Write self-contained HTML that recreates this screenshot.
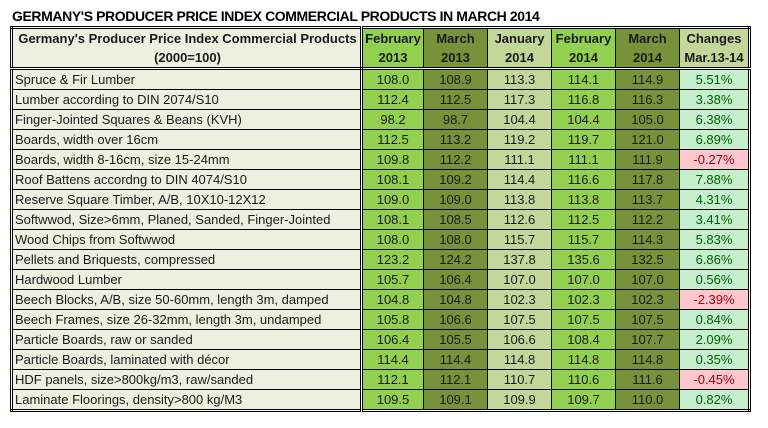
<!DOCTYPE html><html><head><style>
body{margin:0;width:768px;height:428px;background:#fff;font-family:"Liberation Sans",sans-serif;position:relative;overflow:hidden}
.t{position:absolute;left:12px;top:8px;font-weight:bold;font-size:14px;letter-spacing:-0.4px;color:#000}
table{position:absolute;left:10px;top:26px;border-collapse:collapse;table-layout:fixed;border:3px double #000;font-size:13px}
td{border:1px solid #000;height:19px;padding:0;text-align:center;white-space:nowrap;overflow:hidden;color:#1a1a1a}
td.l{text-align:left;padding-left:2px;background:#EBF1DE;border-right:3px double #000}
thead td{height:19px;font-weight:bold;border-top:none;border-bottom:none;line-height:19px}
thead tr:last-child td{border-bottom:3px double #000}
.a{background:#92D050}.b{background:#76933C}.c{background:#C4D79B}
.p{background:#C6EFCE;color:#006100}.n{background:#FFC7CE;color:#9C0006}
thead td.l{text-align:center;background:#EBF1DE}
</style></head><body>
<div class="t">GERMANY'S PRODUCER PRICE INDEX COMMERCIAL PRODUCTS IN MARCH 2014</div>
<table>
<colgroup><col style="width:350px"><col style="width:62px"><col style="width:64px"><col style="width:64px"><col style="width:64px"><col style="width:64px"><col style="width:70px"></colgroup>
<thead>
<tr><td class="l">Germany's Producer Price Index Commercial Products</td><td class="a">February</td><td class="b">March</td><td class="c">January</td><td class="a">February</td><td class="b">March</td><td class="c">Changes</td></tr>
<tr><td class="l">(2000=100)</td><td class="a">2013</td><td class="b">2013</td><td class="c">2014</td><td class="a">2014</td><td class="b">2014</td><td class="c">Mar.13-14</td></tr>
</thead>
<tbody>
<tr><td class="l">Spruce &amp; Fir Lumber</td><td class="a">108.0</td><td class="b">108.9</td><td class="c">113.3</td><td class="a">114.1</td><td class="b">114.9</td><td class="p">5.51%</td></tr>
<tr><td class="l">Lumber according to DIN 2074/S10</td><td class="a">112.4</td><td class="b">112.5</td><td class="c">117.3</td><td class="a">116.8</td><td class="b">116.3</td><td class="p">3.38%</td></tr>
<tr><td class="l">Finger-Jointed Squares &amp; Beans (KVH)</td><td class="a">98.2</td><td class="b">98.7</td><td class="c">104.4</td><td class="a">104.4</td><td class="b">105.0</td><td class="p">6.38%</td></tr>
<tr><td class="l">Boards, width over 16cm</td><td class="a">112.5</td><td class="b">113.2</td><td class="c">119.2</td><td class="a">119.7</td><td class="b">121.0</td><td class="p">6.89%</td></tr>
<tr><td class="l">Boards, width 8-16cm, size 15-24mm</td><td class="a">109.8</td><td class="b">112.2</td><td class="c">111.1</td><td class="a">111.1</td><td class="b">111.9</td><td class="n">-0.27%</td></tr>
<tr><td class="l">Roof Battens accordng to DIN 4074/S10</td><td class="a">108.1</td><td class="b">109.2</td><td class="c">114.4</td><td class="a">116.6</td><td class="b">117.8</td><td class="p">7.88%</td></tr>
<tr><td class="l">Reserve Square Timber, A/B, 10X10-12X12</td><td class="a">109.0</td><td class="b">109.0</td><td class="c">113.8</td><td class="a">113.8</td><td class="b">113.7</td><td class="p">4.31%</td></tr>
<tr><td class="l">Softwwod, Size&gt;6mm, Planed, Sanded, Finger-Jointed</td><td class="a">108.1</td><td class="b">108.5</td><td class="c">112.6</td><td class="a">112.5</td><td class="b">112.2</td><td class="p">3.41%</td></tr>
<tr><td class="l">Wood Chips from Softwwod</td><td class="a">108.0</td><td class="b">108.0</td><td class="c">115.7</td><td class="a">115.7</td><td class="b">114.3</td><td class="p">5.83%</td></tr>
<tr><td class="l">Pellets and Briquests, compressed</td><td class="a">123.2</td><td class="b">124.2</td><td class="c">137.8</td><td class="a">135.6</td><td class="b">132.5</td><td class="p">6.86%</td></tr>
<tr><td class="l">Hardwood Lumber</td><td class="a">105.7</td><td class="b">106.4</td><td class="c">107.0</td><td class="a">107.0</td><td class="b">107.0</td><td class="p">0.56%</td></tr>
<tr><td class="l">Beech Blocks, A/B, size 50-60mm, length 3m, damped</td><td class="a">104.8</td><td class="b">104.8</td><td class="c">102.3</td><td class="a">102.3</td><td class="b">102.3</td><td class="n">-2.39%</td></tr>
<tr><td class="l">Beech Frames, size 26-32mm, length 3m, undamped</td><td class="a">105.8</td><td class="b">106.6</td><td class="c">107.5</td><td class="a">107.5</td><td class="b">107.5</td><td class="p">0.84%</td></tr>
<tr><td class="l">Particle Boards, raw or sanded</td><td class="a">106.4</td><td class="b">105.5</td><td class="c">106.6</td><td class="a">108.4</td><td class="b">107.7</td><td class="p">2.09%</td></tr>
<tr><td class="l">Particle Boards, laminated with décor</td><td class="a">114.4</td><td class="b">114.4</td><td class="c">114.8</td><td class="a">114.8</td><td class="b">114.8</td><td class="p">0.35%</td></tr>
<tr><td class="l">HDF panels, size&gt;800kg/m3, raw/sanded</td><td class="a">112.1</td><td class="b">112.1</td><td class="c">110.7</td><td class="a">110.6</td><td class="b">111.6</td><td class="n">-0.45%</td></tr>
<tr><td class="l">Laminate Floorings, density&gt;800 kg/M3</td><td class="a">109.5</td><td class="b">109.1</td><td class="c">109.9</td><td class="a">109.7</td><td class="b">110.0</td><td class="p">0.82%</td></tr>
</tbody></table>
</body></html>
